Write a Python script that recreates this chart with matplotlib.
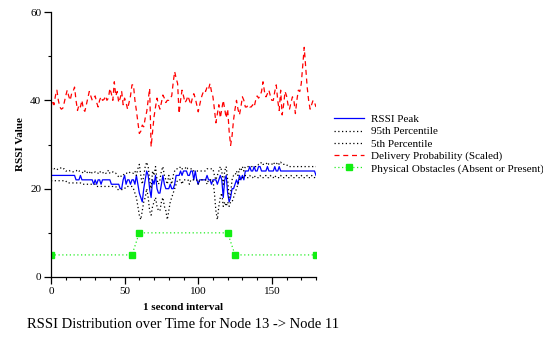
import numpy as np
import matplotlib
matplotlib.use("Agg")
import matplotlib.pyplot as plt
from matplotlib.ticker import MultipleLocator

# time axis: one sample per second
seconds = list(range(181))

delivery_scaled = [
    38.5, 40, 39, 41, 42.3, 40, 38.5, 38, 38.2, 39.5,
    41, 42.3, 41, 40, 41.5, 42, 43, 40, 37.7, 39,
    38.5, 40, 38, 37.5, 39, 40.5, 42, 41, 40, 40.5,
    41, 39.5, 38.5, 40, 40.8, 40, 40.2, 41, 40, 40.5,
    42.7, 41.5, 40, 44.2, 41, 42, 39.5, 40.5, 42, 39,
    40.5, 39.5, 38, 39.5, 41, 43.5, 43.5, 40, 37.7, 35,
    32.5, 33, 34.4, 34, 36, 37.4, 40, 42.7, 29.5, 33,
    36.3, 38.5, 40.5, 39, 38, 39.5, 41.2, 40.5, 39.5, 40,
    40, 40.5, 41, 44, 46.5, 45, 43.8, 37, 40, 42.3,
    41, 39.5, 40, 41, 40, 39, 40.5, 41.5, 40.5, 39,
    37.4, 39, 40.5, 41.5, 42.3, 42, 43, 42.5, 43.8, 42,
    40.8, 38, 34.9, 37, 39, 36, 38, 40, 38, 36,
    38, 33, 29.8, 32, 35.6, 38, 40, 38, 36.7, 38.5,
    40.8, 40, 38.5, 38.5, 39, 38.5, 38.5, 39, 38.5, 40,
    41, 40.5, 41, 42, 44.2, 42, 40.8, 41.5, 42.3, 41,
    40, 40, 42, 43.5, 40, 37.7, 42.3, 36.7, 39, 42,
    41, 39, 38, 39.5, 40.8, 40, 37, 40, 42.3, 42,
    43.8, 48, 52, 47.5, 43, 40, 38, 39, 40, 39.5,
    38.5,
]

rssi_peak = [
    23, 23, 23, 23, 23, 23, 23, 23, 23, 23,
    23, 23, 23, 23, 23, 23, 23, 22, 22, 22,
    23, 22, 22, 22, 22, 22, 22, 22, 22, 21,
    22, 21, 22, 22, 21, 22, 22, 22, 22, 22,
    22, 21, 21, 21, 21, 21, 21, 20, 20, 22,
    23, 21, 22, 22, 21, 22, 22, 21, 23, 21,
    19, 18, 17, 20, 22, 24, 23, 20, 18, 22,
    21, 23, 20, 19, 19, 21, 23, 21, 20, 20,
    20, 21, 20, 20, 21, 23, 23, 23, 24, 23,
    24, 24, 24, 23, 23, 24, 24, 22, 24, 22,
    21, 22, 22, 22, 22, 22, 23, 22, 22, 21,
    22, 22, 22, 21, 22, 23, 22, 18, 22, 23,
    19, 17, 18, 20, 20, 21, 22, 21, 23, 22,
    23, 22, 24, 24, 24, 25, 24, 24, 25, 24,
    24, 25, 25, 24, 24, 24, 24, 25, 24, 24,
    24, 24, 25, 24, 24, 25, 24, 24, 24, 24,
    24, 24, 24, 24, 24, 24, 24, 24, 24, 24,
    24, 24, 24, 24, 24, 24, 24, 24, 24, 24,
    23,
]

pct95 = [
    24.5, 24.8, 24.5, 24.6, 24.3, 24.5, 24.5, 24.8, 24.5, 24.5,
    24, 24, 24.2, 24, 24, 23.8, 24, 24, 24.3, 24,
    24, 23.8, 23.5, 24, 23.5, 23.8, 23.5, 24, 23.5, 23.5,
    23.8, 23.5, 23.5, 24, 23.5, 23.5, 23.8, 23.5, 23.5, 24.2,
    23.5, 23.5, 23.8, 23.5, 23.5, 23, 22.7, 23, 22.7, 23,
    23.5, 23.5, 23.5, 23.8, 23.5, 23.5, 23.5, 24, 23, 24.5,
    25.5, 23, 21, 23, 25, 26, 25, 22, 20, 24,
    23, 25, 22, 21, 22, 24, 25, 23, 22, 21,
    23, 22, 21, 23, 24, 24.5, 24.5, 24.5, 25, 24.5,
    24.5, 24.5, 25, 24.5, 24.5, 24.5, 24.5, 24, 24, 24,
    24, 24, 24, 24, 24, 24, 24.5, 24.5, 24.5, 24.5,
    24.5, 23, 22, 23, 24, 25, 24, 21, 24, 25,
    22, 18, 19, 22, 23, 23, 24, 23, 24.5, 24,
    25, 24, 25, 25, 25, 25, 25, 25, 25, 25,
    25, 25.5, 25.5, 26, 25.5, 25.5, 25.5, 26, 25.5, 25.5,
    25.5, 26, 25.5, 25.5, 26, 25.5, 26, 25.5, 25.5, 25.5,
    25.5, 25, 25, 25, 25, 25, 25, 25, 25, 25,
    25, 25, 25, 25, 25, 25, 25, 25, 25, 25,
    25,
]

pct5 = [
    21.8, 21.8, 21.8, 21.8, 21.8, 21.8, 21.8, 21.8, 21.8, 21.8,
    21.8, 21.3, 21.3, 21.3, 21.3, 21.3, 21.3, 21.3, 21.3, 21.3,
    21.3, 21, 21, 21, 21, 21, 21, 21, 21, 21,
    21, 20.5, 20.5, 20.5, 20.5, 20.5, 20.5, 20.5, 20.5, 20.5,
    20.5, 20.5, 20.5, 20.5, 20.5, 19.8, 19.8, 19.8, 19.8, 19.8,
    20, 20.5, 20.5, 20.5, 20.5, 20.5, 20, 19, 18, 16,
    14, 13, 15, 17, 18, 20, 18, 15, 14, 16,
    17, 18, 16, 15, 15, 17, 18, 16, 15, 13,
    15, 17, 18, 19, 20, 21, 22, 22, 22, 21,
    22, 22, 22, 22, 21, 22, 22, 22, 22, 22,
    21, 22, 22, 22, 22, 22, 21, 22, 22, 22,
    22, 19, 15, 13, 16, 18, 19, 16, 17, 16,
    17, 16, 17, 17, 18, 19, 20, 21, 22, 22.5,
    22.5, 22.5, 23, 22.5, 22.5, 23, 22.5, 22.5, 23, 22.5,
    22.5, 22.5, 23, 22.5, 22.5, 22.5, 23, 22.5, 22.5, 23,
    22.5, 22.5, 23, 22.5, 22.5, 22.5, 23, 22.5, 22.5, 22.5,
    23, 22.5, 22.5, 23, 22.5, 22.5, 22.5, 23, 22.5, 22.5,
    23, 22.5, 22.5, 22.5, 23, 22.5, 22.5, 23, 22.5, 22.5,
    23,
]

obstacle_t = [0, 55, 60, 120, 125, 180]
obstacle_level = [5, 5, 10, 10, 5, 5]

series_labels = [
    "RSSI Peak",
    "95th Percentile",
    "5th Percentile",
    "Delivery Probability (Scaled)",
    "Physical Obstacles (Absent or Present)",
]

plt.rcParams["font.family"] = ["Liberation Serif", "DejaVu Serif"]

fig = plt.figure(figsize=(5.43, 3.37), dpi=100)
ax = fig.add_axes([51 / 543, 1 - 277 / 337, 265 / 543, 265 / 337])

h_peak, = ax.plot(seconds, rssi_peak, color="#0000ff", lw=0.9)
h_95, = ax.plot(seconds, pct95, color="black", lw=0.9, ls=(0, (1, 2)))
h_5, = ax.plot(seconds, pct5, color="black", lw=0.9, ls=(0, (1, 2)))
h_del, = ax.plot(seconds, delivery_scaled, color="#ff0000", lw=0.9,
                 ls=(0, (4, 3)))
h_obs, = ax.plot(obstacle_t, obstacle_level, color="#22ee22", lw=0.9,
                 ls=(0, (1, 2)), marker="s", ms=4.5, mfc="#11ee11",
                 mec="#11ee11")

ax.set_xlim(0, 180)
ax.set_ylim(0, 60)
ax.xaxis.set_major_locator(MultipleLocator(50))
ax.xaxis.set_minor_locator(MultipleLocator(10))
ax.yaxis.set_major_locator(MultipleLocator(20))
ax.yaxis.set_minor_locator(MultipleLocator(10))
for s in ("top", "right"):
    ax.spines[s].set_visible(False)
for s in ("left", "bottom"):
    ax.spines[s].set_linewidth(0.9)
ax.tick_params(which="major", direction="out", length=5, width=0.9,
               labelsize=8, pad=2)
ax.tick_params(which="minor", direction="out", length=2.5, width=0.8)

ax.set_xlabel("1 second interval", fontsize=8, fontweight="bold", labelpad=5)
ax.set_ylabel("RSSI Value", fontsize=8, fontweight="bold", labelpad=4)

fig.legend([h_peak, h_95, h_5, h_del, h_obs], series_labels,
           loc="upper left", bbox_to_anchor=(330 / 543, 1 - 110 / 337),
           frameon=False, fontsize=8, handlelength=2.7, handletextpad=0.6,
           labelspacing=0.22, borderaxespad=0)

fig.text(27 / 543, 1 - 325 / 337,
         "RSSI Distribution over Time for Node 13 -> Node 11",
         fontsize=10.5, ha="left", va="center")

fig.savefig("out.png", dpi=100)
